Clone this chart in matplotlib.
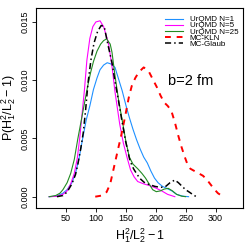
import numpy as np
import matplotlib
matplotlib.use("Agg")
import matplotlib.pyplot as plt
from matplotlib.ticker import FormatStrFormatter

plt.rcParams['font.family'] = ['Liberation Sans', 'DejaVu Sans']
plt.rcParams['mathtext.fontset'] = 'custom'
plt.rcParams['mathtext.rm'] = 'Liberation Sans'
plt.rcParams['mathtext.it'] = 'Liberation Sans'

# UrQMD N=1
x_n1 = [22, 35, 45, 52, 60, 66, 72, 78, 84, 90, 96, 102, 107, 113, 119, 125,
        132, 138, 144, 150, 156, 162, 168, 174, 180, 186, 192, 198, 204, 211,
        219, 227, 235, 245, 255]
y_n1 = [0, 0.00005, 0.0003, 0.0006, 0.0012, 0.002, 0.0033, 0.005, 0.0066,
        0.0078, 0.0092, 0.0102, 0.0109, 0.0113, 0.0115, 0.0114, 0.0111, 0.0101,
        0.0091, 0.0079, 0.0068, 0.0058, 0.0049, 0.0041, 0.0034, 0.0029, 0.0022,
        0.0016, 0.0012, 0.0009, 0.0007, 0.0005, 0.0002, 0.00005, 0]

# UrQMD N=5
x_n5 = [22, 35, 45, 52, 58, 64, 69, 73, 77, 81, 85, 90, 95, 100, 107, 113,
        121, 127, 132, 140, 146, 152, 158, 164, 170, 180, 190, 200, 210, 220, 232]
y_n5 = [0, 0.00003, 0.0002, 0.0005, 0.0011, 0.002, 0.0033, 0.005, 0.0071,
        0.0092, 0.0117, 0.0136, 0.0146, 0.0150, 0.0151, 0.0146, 0.0132, 0.0112,
        0.009, 0.0062, 0.0046, 0.0034, 0.0023, 0.0017, 0.0013, 0.0011, 0.00095,
        0.00075, 0.0005, 0.0002, 0]

# UrQMD N=25
x_n25 = [22, 33, 40, 45, 52, 58, 64, 70, 74, 78, 82, 86, 91, 96, 102, 108,
         113, 118, 124, 127, 132, 138, 146, 150, 156, 162, 170, 177, 183, 189,
         195, 201, 208, 214, 221, 228, 235, 243, 250]
y_n25 = [0, 0.0001, 0.0003, 0.0006, 0.0012, 0.002, 0.0032, 0.005, 0.0061,
         0.0072, 0.0083, 0.0094, 0.0106, 0.0116, 0.0125, 0.0131, 0.0134, 0.01355,
         0.0131, 0.0124, 0.0104, 0.0083, 0.006, 0.0048, 0.0034, 0.0028, 0.0024,
         0.002, 0.0016, 0.0011, 0.0006, 0.00043, 0.0005, 0.00065, 0.00072,
         0.0005, 0.0002, 0.00005, 0]

# MC-KLN
x_kln = [99, 110, 118, 124, 128, 135, 143, 149, 155, 160, 166, 172, 180, 188,
         195, 202, 208, 214, 220, 226, 232, 238, 243, 248, 253, 258, 265, 272,
         279, 285, 291, 297, 304, 310, 316]
y_kln = [0, 0.0001, 0.0004, 0.0011, 0.002, 0.0036, 0.0054, 0.0069, 0.0085,
         0.0095, 0.0102, 0.0107, 0.0111, 0.0108, 0.0101, 0.0094, 0.0087, 0.0081,
         0.0078, 0.0074, 0.0064, 0.0052, 0.0043, 0.0035, 0.0028, 0.0024, 0.0022,
         0.002, 0.0018, 0.0015, 0.0011, 0.0007, 0.0003, 0.0001, 0]

# MC-Glaub
x_gl = [35, 45, 52, 60, 66, 70, 75, 79, 83, 87, 92, 97, 103, 109, 114, 120,
        127, 132, 138, 144, 150, 157, 163, 169, 175, 182, 190, 199, 208, 216,
        224, 232, 238, 244, 250, 256, 263, 268]
y_gl = [0, 0.0001, 0.0004, 0.0011, 0.0019, 0.0028, 0.0042, 0.0055, 0.0075,
        0.0098, 0.0118, 0.0132, 0.0142, 0.0147, 0.0146, 0.0131, 0.0115, 0.0099,
        0.0082, 0.0064, 0.0047, 0.0031, 0.0024, 0.0019, 0.0015, 0.00118,
        0.00103, 0.00088, 0.0008, 0.00085, 0.0012, 0.00143, 0.0012, 0.0009,
        0.0006, 0.0004, 0.00015, 0]

fig = plt.figure(figsize=(2.49, 2.49), dpi=100)
ax = fig.add_axes([0.1446, 0.1647, 0.8314, 0.8032])

ax.plot(x_n1, y_n1, color="#1E90FF", lw=0.8, label="UrQMD N=1")
ax.plot(x_n5, y_n5, color="#FF00FF", lw=0.8, label="UrQMD N=5")
ax.plot(x_n25, y_n25, color="#228B22", lw=0.8, label="UrQMD N=25")
ax.plot(x_kln, y_kln, color="red", lw=1.4, ls=(0, (3, 3)), label="MC-KLN")
ax.plot(x_gl, y_gl, color="black", lw=1.1, ls=(0, (4, 2, 1, 2)), label="MC-Glaub")

ax.set_xlim(0, 346)
ax.set_ylim(-0.00097, 0.0162)
ax.set_xticks([50, 100, 150, 200, 250, 300])
ax.set_yticks([0.0, 0.005, 0.010, 0.015])
ax.yaxis.set_major_formatter(FormatStrFormatter("%.3f"))
ax.tick_params(labelsize=6.5, length=3, width=0.6, pad=1.5)
for lab in ax.get_yticklabels():
    lab.set_rotation(90)
    lab.set_va("center")
for s in ax.spines.values():
    s.set_linewidth(0.8)

ax.set_xlabel(r"$\mathregular{H_1^2/L_2^2-1}$", fontsize=9, labelpad=2)
ax.set_ylabel(r"$\mathregular{P(H_1^2/L_2^2-1)}$", fontsize=9, labelpad=2)

ax.text(0.638, 0.615, "b=2 fm", transform=ax.transAxes, fontsize=10.5,
        va="baseline", ha="left")

ax.legend(loc="upper right", bbox_to_anchor=(1.0, 0.985), frameon=False,
          fontsize=5.8, labelspacing=-0.2, handlelength=2.3, handletextpad=0.8,
          borderaxespad=0.2)

fig.savefig("out.png", dpi=100)
